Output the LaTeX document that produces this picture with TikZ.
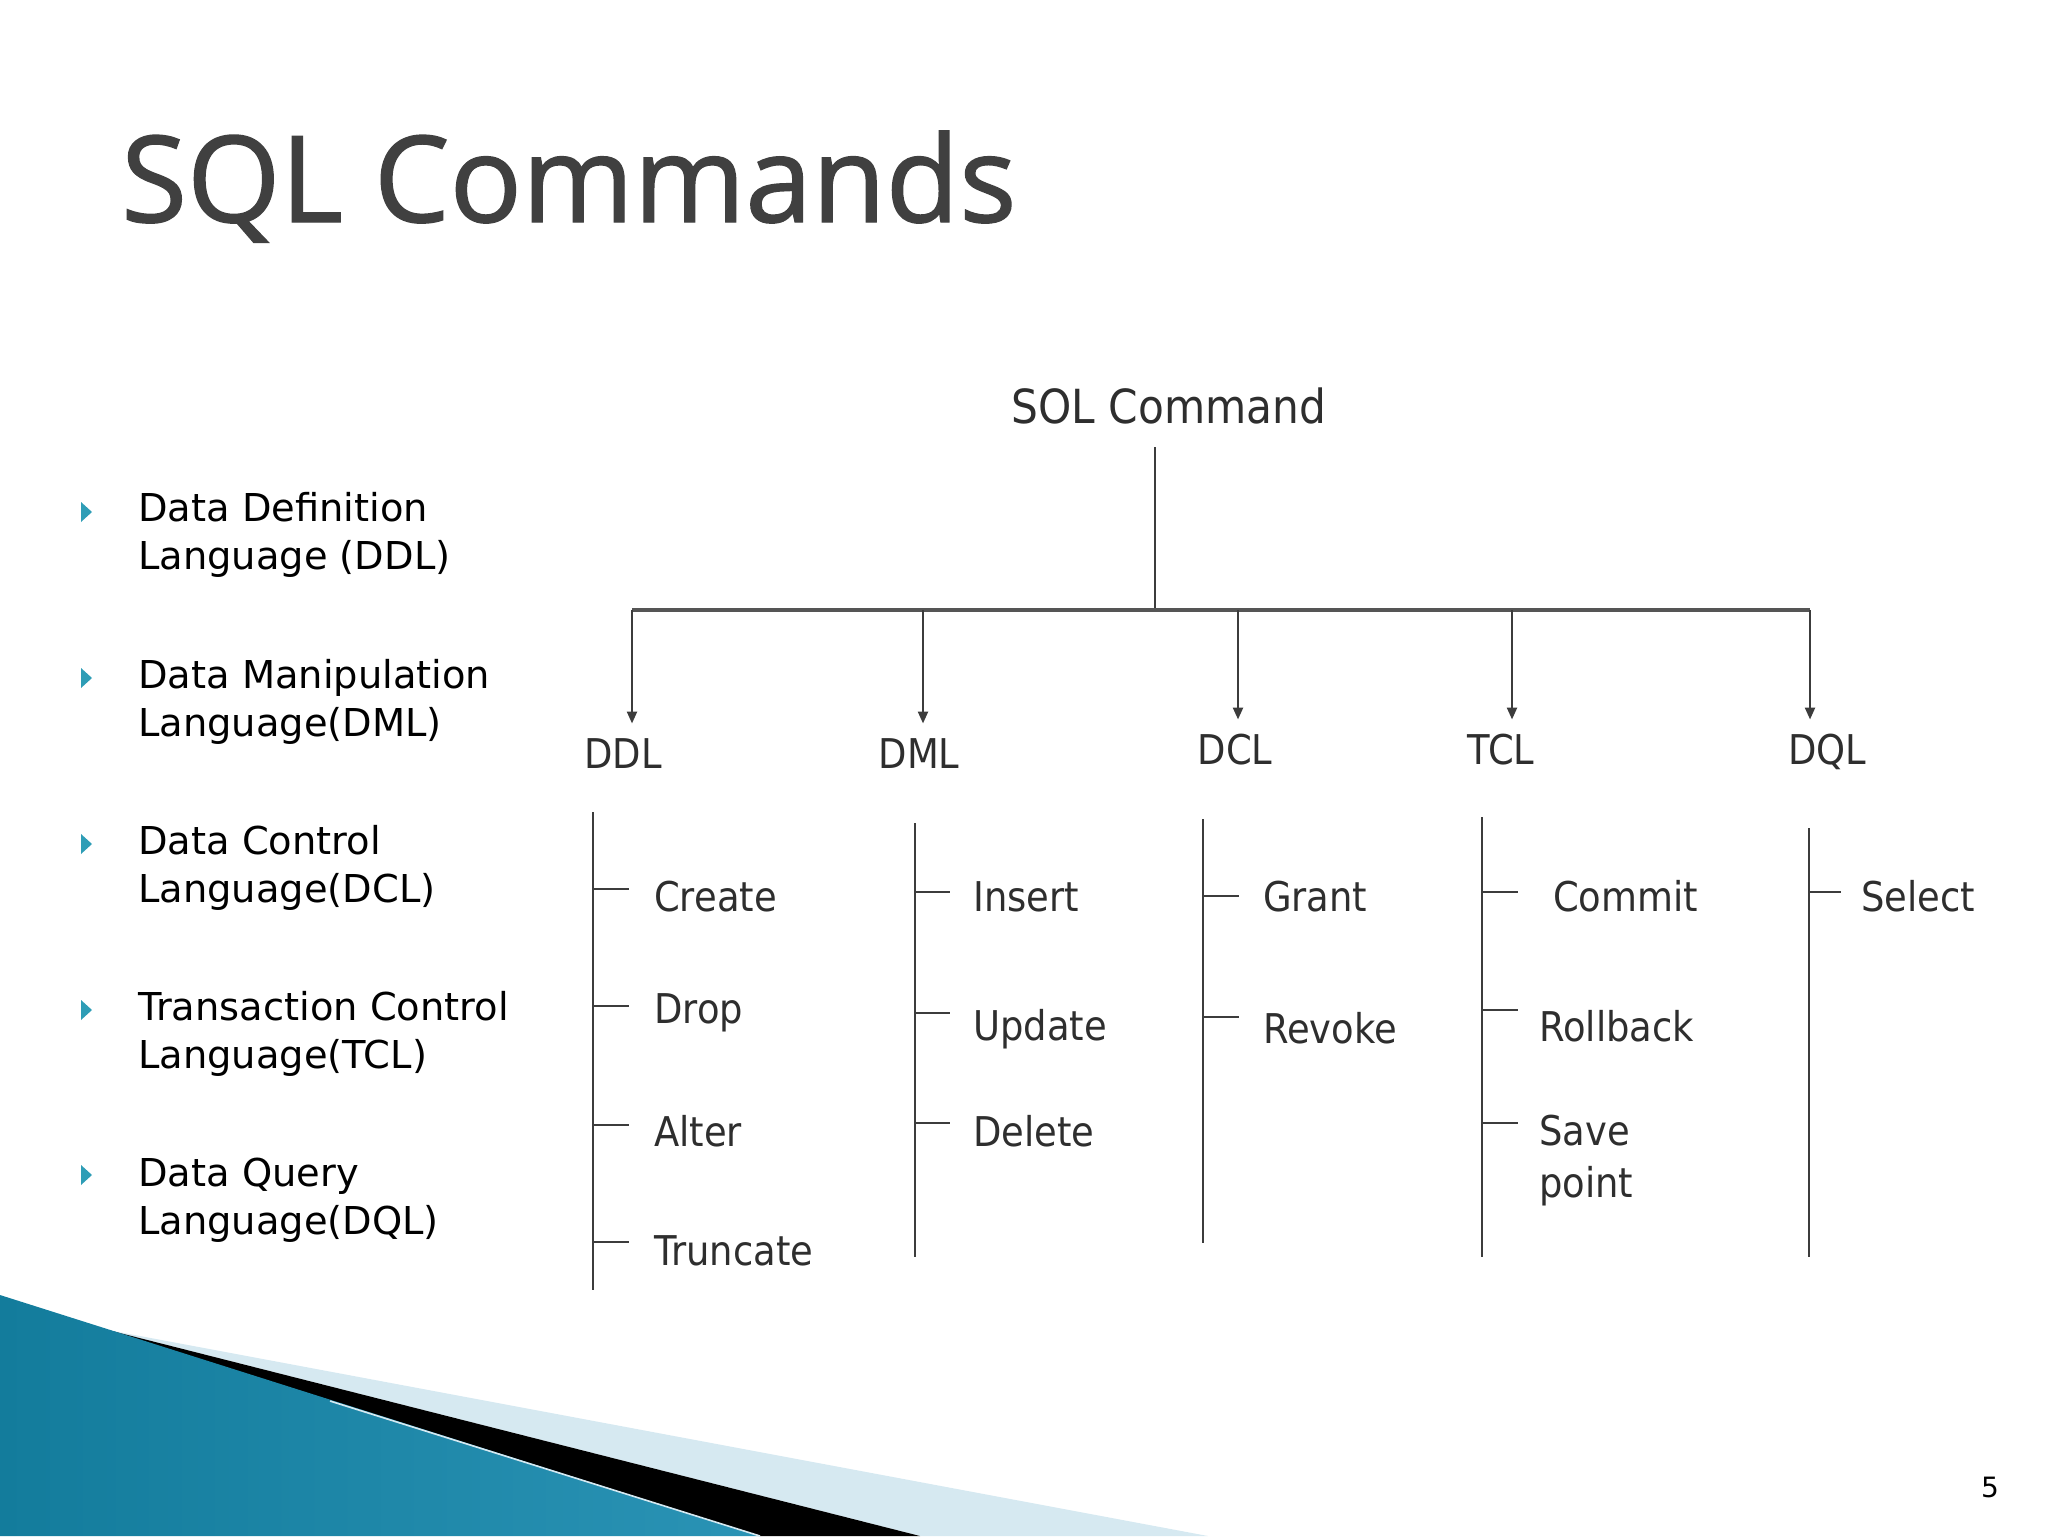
\documentclass[tikz,border=0pt]{standalone}
\usepackage{fontspec}
\setmainfont{DejaVu Sans}
\newfontfamily\titlefont{Open Sans}[FakeBold=1.2]
\newfontfamily\diagfont{DejaVu Sans}[FakeStretch=0.9]
\usetikzlibrary{positioning,arrows.meta,calc}
\definecolor{titlegray}{HTML}{404040}
\definecolor{linegray}{HTML}{3C3C3C}
\definecolor{bargray}{HTML}{555555}
\definecolor{txtgray}{HTML}{2E2E2E}
\definecolor{bultel}{HTML}{2E9DB6}
\definecolor{tealD}{HTML}{137C9C}
\definecolor{tealL}{HTML}{5CBAD8}
\definecolor{tealM}{HTML}{2A93B5}
\definecolor{paleblue}{HTML}{D6E9F1}
\tikzset{
  every picture/.style={line width=1.2pt},
  title/.style={font=\titlefont\fontsize{60}{72}\selectfont,text=titlegray,inner sep=0,anchor=base west},
  bul/.style={font=\fontsize{19.2}{24}\selectfont,align=left,inner sep=0,anchor=west},
  root/.style={font=\diagfont\fontsize{23.5}{28}\selectfont,text=txtgray,inner sep=11pt},
  cat/.style={font=\diagfont\fontsize{20.5}{25}\selectfont,text=txtgray,inner sep=14.5pt,text height=0.73em,text depth=0pt},
  cmd/.style={font=\diagfont\fontsize{20.5}{26}\selectfont,text=txtgray,inner sep=0,anchor=west},
  item/.style={cmd,text height=0.73em,text depth=0pt},
  spine/.style={linegray,line width=1.3pt},
  tick/.style={linegray,line width=1.3pt},
  arr/.style={linegray,line width=1.2pt,-{Triangle[length=6pt,width=5pt]}},
  bar/.style={bargray,line width=2pt},
}

\begin{document}
\begin{tikzpicture}[x=0.5pt,y=-0.5pt]
\useasboundingbox (0,0) rectangle (2048,1536);
% bottom-left swoosh
\fill[paleblue] (108,1330) -- (1208,1536) -- (920,1536) -- cycle;
\fill[black] (108,1330) -- (920,1536) -- (760,1536) -- cycle;
\shade[left color=tealD,middle color=tealL,right color=tealM] (0,1295) -- (760,1536) -- (0,1536) -- cycle;
\draw[paleblue,line width=0.8pt] (330,1401) -- (760,1536);
% title
\node[title] (title) at (120,222) {SQL Commands};
% bullet list
\fill[bultel] (81,502) -- (92,512) -- (81,522) -- cycle;
\node[bul] (ddl-txt) at (137,535) {Data Definition\\Language (DDL)};
\fill[bultel] (81,668) -- (92,678) -- (81,688) -- cycle;
\node[bul] (dml-txt) at (137,702) {Data Manipulation\\Language(DML)};
\fill[bultel] (81,834) -- (92,844) -- (81,854) -- cycle;
\node[bul] (dcl-txt) at (137,868) {Data Control\\Language(DCL)};
\fill[bultel] (81,1000) -- (92,1010) -- (81,1020) -- cycle;
\node[bul] (tcl-txt) at (137,1034) {Transaction Control\\Language(TCL)};
\fill[bultel] (81,1165) -- (92,1175) -- (81,1185) -- cycle;
\node[bul] (dql-txt) at (137,1200) {Data Query\\Language(DQL)};
% root and bar
\node[root] (root) at (1169,406) {SOL Command};
\coordinate (hub) at (1155,610);
\draw[spine] (root.south -| hub) -- (hub);
\coordinate (b-ddl) at (632,610);
\coordinate (b-dml) at (923,610);
\coordinate (b-dcl) at (1238,610);
\coordinate (b-tcl) at (1512,610);
\coordinate (b-dql) at (1810,610);
\draw[bar] (b-ddl) -- (b-dql);
% categories
\node[cat] (ddl) at (623,761) {DDL};
\node[cat] (dml) at (919,761) {DML};
\node[cat] (dcl) at (1235,757) {DCL};
\node[cat] (tcl) at (1501,757) {TCL};
\node[cat] (dql) at (1827,757) {DQL};
\draw[arr] (b-ddl) -- (b-ddl |- ddl.north);
\draw[arr] (b-dml) -- (b-dml |- dml.north);
\draw[arr] (b-dcl) -- (b-dcl |- dcl.north);
\draw[arr] (b-tcl) -- (b-tcl |- tcl.north);
\draw[arr] (b-dql) -- (b-dql |- dql.north);
% spines
\coordinate (ddl-top) at (593,812);  \coordinate (ddl-bot) at (593,1290);
\coordinate (dml-top) at (915,823);  \coordinate (dml-bot) at (915,1257);
\coordinate (dcl-top) at (1203,819); \coordinate (dcl-bot) at (1203,1243);
\coordinate (tcl-top) at (1482,817); \coordinate (tcl-bot) at (1482,1257);
\coordinate (dql-top) at (1809,828); \coordinate (dql-bot) at (1809,1257);
\draw[spine] (ddl-top) -- (ddl-bot);
\draw[spine] (dml-top) -- (dml-bot);
\draw[spine] (dcl-top) -- (dcl-bot);
\draw[spine] (tcl-top) -- (tcl-bot);
\draw[spine] (dql-top) -- (dql-bot);
% DDL commands
\node[item] (create) at (653,904) {Create};
\node[item] (drop) at (653,1016) {Drop};
\node[item] (alter) at (653,1139) {Alter};
\node[item] (truncate) at (653,1258) {Truncate};
\draw[tick] ([yshift=7.5pt]create.west -| ddl-top) -- ++(36,0);
\draw[tick] ([yshift=5pt]drop.west -| ddl-top) -- ++(36,0);
\draw[tick] ([yshift=7pt]alter.west -| ddl-top) -- ++(36,0);
\draw[tick] ([yshift=8pt]truncate.west -| ddl-top) -- ++(36,0);
% DML commands
\node[item] (insert) at (972,904) {Insert};
\node[item] (update) at (972,1033) {Update};
\node[item] (delete) at (972,1139) {Delete};
\draw[tick] ([yshift=6pt]insert.west -| dml-top) -- ++(35,0);
\draw[tick] ([yshift=10pt]update.west -| dml-top) -- ++(35,0);
\draw[tick] ([yshift=8pt]delete.west -| dml-top) -- ++(35,0);
% DCL commands
\node[item] (grant) at (1262,904) {Grant};
\node[item] (revoke) at (1262,1036) {Revoke};
\draw[tick] ([yshift=4pt]grant.west -| dcl-top) -- ++(36,0);
\draw[tick] ([yshift=9.5pt]revoke.west -| dcl-top) -- ++(36,0);
% TCL commands
\node[item] (commit) at (1552,904) {Commit};
\node[item] (rollback) at (1538,1034) {Rollback};
\node[cmd,anchor=north west,align=left] (savepoint) at (1538,1114) {Save\\point};
\draw[tick] ([yshift=6pt]commit.west -| tcl-top) -- ++(36,0);
\draw[tick] ([yshift=12pt]rollback.west -| tcl-top) -- ++(36,0);
\draw[tick] ([yshift=-4.5pt]savepoint.north west -| tcl-top) -- ++(36,0);
% DQL commands
\node[item] (select) at (1860,904) {Select};
\draw[tick] ([yshift=6pt]select.west -| dql-top) -- ++(32,0);
% page number
\node[font=\fontsize{14}{16}\selectfont] (pgnum) at (1990,1487) {5};
\end{tikzpicture}
\end{document}
